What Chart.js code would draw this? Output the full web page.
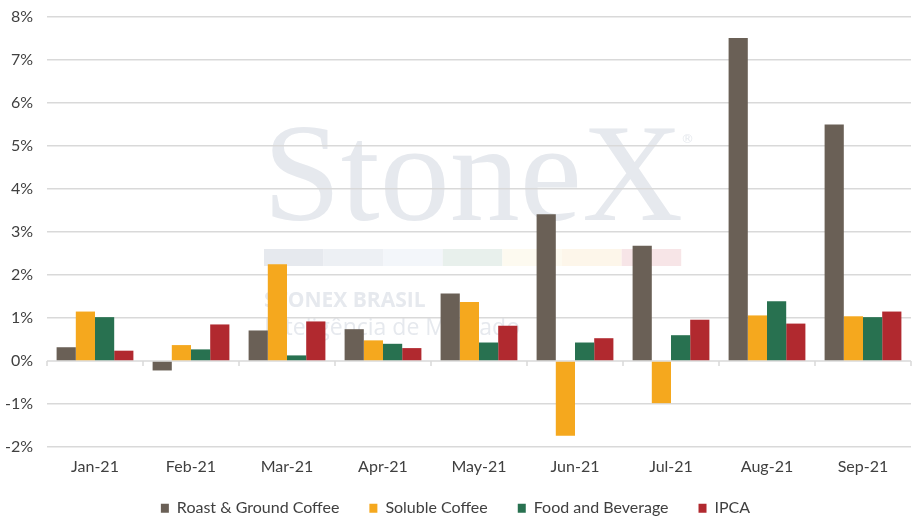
<!DOCTYPE html>
<html>
<head>
<meta charset="utf-8">
<script src="https://cdn.jsdelivr.net/npm/chart.js@4"></script>
<style>
  body { margin: 0; background: #fff; }
  #wrap { width: 919px; height: 529px; }
</style>
</head>
<body>
<div id="wrap"><canvas id="myChart"></canvas></div>
<script>
const months = ['Jan-21', 'Feb-21', 'Mar-21', 'Apr-21', 'May-21', 'Jun-21', 'Jul-21', 'Aug-21', 'Sep-21'];
const roastGround = [0.32, -0.22, 0.71, 0.74, 1.57, 3.41, 2.68, 7.51, 5.50];
const soluble = [1.15, 0.37, 2.25, 0.48, 1.37, -1.74, -0.98, 1.06, 1.04];
const foodBev = [1.02, 0.27, 0.13, 0.40, 0.43, 0.43, 0.60, 1.39, 1.02];
const ipca = [0.24, 0.85, 0.92, 0.30, 0.82, 0.53, 0.96, 0.87, 1.15];

// watermark drawn behind grid and bars
const watermark = {
    id: 'watermark',
    beforeDraw(chart) {
        const ctx = chart.ctx;
        ctx.save();
        ctx.fillStyle = '#e6e9ee';
        ctx.font = '140px "Liberation Serif"';
        ctx.textBaseline = 'alphabetic';
        ctx.fillText('StoneX', 263, 220);
        ctx.font = '13px "DejaVu Sans"';
        ctx.fillText('®', 681, 143);
        let stripe = ['#e6e9ee', '#edf0f4', '#f3f6fa', '#e8f0ec', '#fdfaf0', '#fdf6ea', '#f7e5e7'];
        for (let i = 0; i < stripe.length; i++) {
            ctx.fillStyle = stripe[i];
            ctx.fillRect(264 + i * 59.6, 249, 59.6, 17);
        }
        ctx.fillStyle = '#e6e9ee';
        ctx.font = 'bold 21px "Open Sans"';
        ctx.fillText('STONEX BRASIL', 264, 307);
        ctx.font = '23px "Open Sans"';
        ctx.fillText('Inteligência de Mercado', 264, 335);
        ctx.restore();
    }
};

// zero line with category tick marks
const zeroLine = {
    id: 'zeroLine',
    beforeDatasetsDraw(chart) {
        const ctx = chart.ctx;
        const y0 = chart.scales.y.getPixelForValue(0);
        const area = chart.chartArea;
        ctx.save();
        ctx.strokeStyle = '#d9d9d9';
        ctx.lineWidth = 1.5;
        ctx.beginPath();
        ctx.moveTo(area.left, y0);
        ctx.lineTo(area.right, y0);
        let step = (area.right - area.left) / months.length;
        for (let i = 0; i <= months.length; i++) {
            let px = area.left + i * step;
            ctx.moveTo(px, y0);
            ctx.lineTo(px, y0 + 5);
        }
        ctx.stroke();
        ctx.restore();
    }
};

// legend: fixed height, then its top pulled up so it sits closer to the labels
const legendHeight = {
    id: 'legendHeight',
    beforeInit(chart) {
        const origFit = chart.legend.fit;
        chart.legend.fit = function () {
            origFit.bind(chart.legend)();
            this.height = 42.8;
        };
    },
    afterLayout(chart) {
        chart.legend.top -= 16;
        chart.legend.height += 16;
        chart.legend.bottom = chart.height;
    }
};

Chart.defaults.font.family = 'Lato';
Chart.defaults.color = '#404040';

var ctx = document.getElementById('myChart').getContext('2d');
var myChart = new Chart(ctx, {
    type: 'bar',
    data: {
        labels: months,
        datasets: [
            { label: 'Roast & Ground Coffee', data: roastGround, backgroundColor: '#6a6056' },
            { label: 'Soluble Coffee', data: soluble, backgroundColor: '#f5a81e' },
            { label: 'Food and Beverage', data: foodBev, backgroundColor: '#287150' },
            { label: 'IPCA', data: ipca, backgroundColor: '#b1292f' }
        ]
    },
    options: {
        responsive: true,
        maintainAspectRatio: false,
        animation: false,
        layout: { padding: { top: 0, right: 8, left: 0, bottom: 0 } },
        datasets: {
            bar: { categoryPercentage: 0.8, barPercentage: 1.0 }
        },
        scales: {
            x: {
                grid: { display: false, drawTicks: false },
                border: { display: false },
                ticks: { font: { size: 16 }, padding: 10 }
            },
            y: {
                min: -2,
                max: 8,
                afterFit(scale) {
                    scale.width = 47;
                    scale.paddingTop = 17;
                },
                grid: {
                    color: (c) => c.tick.value === 0 ? 'rgba(0,0,0,0)' : '#d9d9d9',
                    lineWidth: 1.5,
                    drawTicks: false
                },
                border: { display: false },
                ticks: {
                    stepSize: 1,
                    padding: 14,
                    font: { size: 16 },
                    callback: (v) => v + '%'
                }
            }
        },
        plugins: {
            legend: {
                position: 'bottom',
                labels: {
                    boxWidth: 8,
                    boxHeight: 9,
                    padding: 30,
                    font: { size: 16 },
                    color: '#404040'
                }
            },
            tooltip: { enabled: false }
        }
    },
    plugins: [watermark, zeroLine, legendHeight]
});
</script>
</body>
</html>
